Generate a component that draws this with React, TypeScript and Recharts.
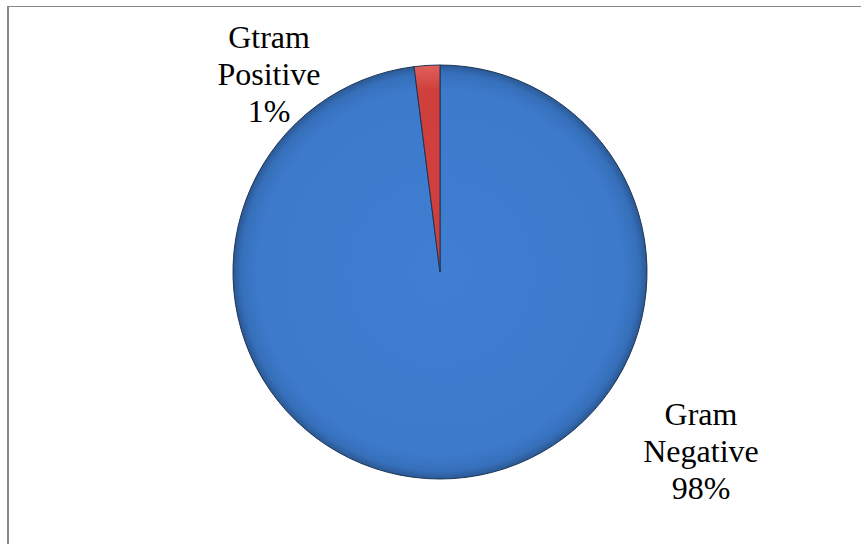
import React from "react";
import { PieChart, Pie, Cell } from "recharts";

// slice names split the way they are printed, and the printed percentages
const categories = ["Gram Negative", "Gtram Positive"];
const labelLines = [["Gram", "Negative"], ["Gtram", "Positive"]];
const values = [98, 2];
const percentLabels = ["98%", "1%"];

const data = categories.map((name, i) => ({ name, value: values[i] }));

const W = 861;
const H = 544;
const CX = 440;
const CY = 272;
const R = 207;

const fills = ["url(#blueShade)", "url(#redShade)"];
const FONT = "'Liberation Serif', 'Times New Roman', serif";

const renderLabel = (props: any) => {
    const { cx, cy, index } = props;
    const lines = [...labelLines[index], percentLabels[index]];
    // Excel best-fit spot: lower right for the big slice, upper left for the sliver
    const x = index === 0 ? cx + 261 : cx - 171;
    const y0 = index === 0 ? cy + 153 : cy - 224;
    return (
        <g key={`label-${index}`} style={{ fontFamily: FONT }}>
            {lines.map((l, i) => (
                <text key={i} x={x} y={y0 + i * 36.8} textAnchor="middle" fill="#000" fontFamily={FONT} fontSize={32}>
                    {l}
                </text>
            ))}
        </g>
    );
};

const App: React.FC = () => {
    return (
        <div style={{ fontFamily: FONT }}>
            <style>{`body { margin: 0; overflow: hidden; background: #fff; } .recharts-pie-labels text { font-family: 'Liberation Serif', 'Times New Roman', serif !important; }`}</style>
            <PieChart width={W} height={H} margin={{ top: 0, right: 0, bottom: 0, left: 0 }} style={{ fontFamily: FONT }}>
                <defs>
                    <radialGradient id="blueShade" gradientUnits="userSpaceOnUse" cx={CX} cy={CY} r={R}>
                        <stop offset="0%" stopColor="#3f7ed2" />
                        <stop offset="88%" stopColor="#3d7acc" />
                        <stop offset="96%" stopColor="#3670bb" />
                        <stop offset="100%" stopColor="#2b5894" />
                    </radialGradient>
                    <radialGradient id="redShade" gradientUnits="userSpaceOnUse" cx={CX} cy={CY} r={R}>
                        <stop offset="0%" stopColor="#d2403c" />
                        <stop offset="88%" stopColor="#cf3f3b" />
                        <stop offset="100%" stopColor="#e0605c" />
                    </radialGradient>
                </defs>
                {/* chart area frame, only its top and left edges are in view */}
                <line x1={7} y1={6.5} x2={W} y2={6.5} stroke="#878787" strokeWidth={1} />
                <line x1={8} y1={6} x2={8} y2={H} stroke="#878787" strokeWidth={2} />
                <Pie
                    data={data}
                    dataKey="value"
                    nameKey="name"
                    cx={CX}
                    cy={CY}
                    outerRadius={R}
                    startAngle={90}
                    endAngle={-270}
                    stroke="#1d3556"
                    strokeWidth={1}
                    label={renderLabel}
                    labelLine={false}
                    isAnimationActive={false}
                >
                    {data.map((entry, index) => (
                        <Cell key={`cell-${index}`} fill={fills[index]} />
                    ))}
                </Pie>
            </PieChart>
        </div>
    );
};

export default App;
